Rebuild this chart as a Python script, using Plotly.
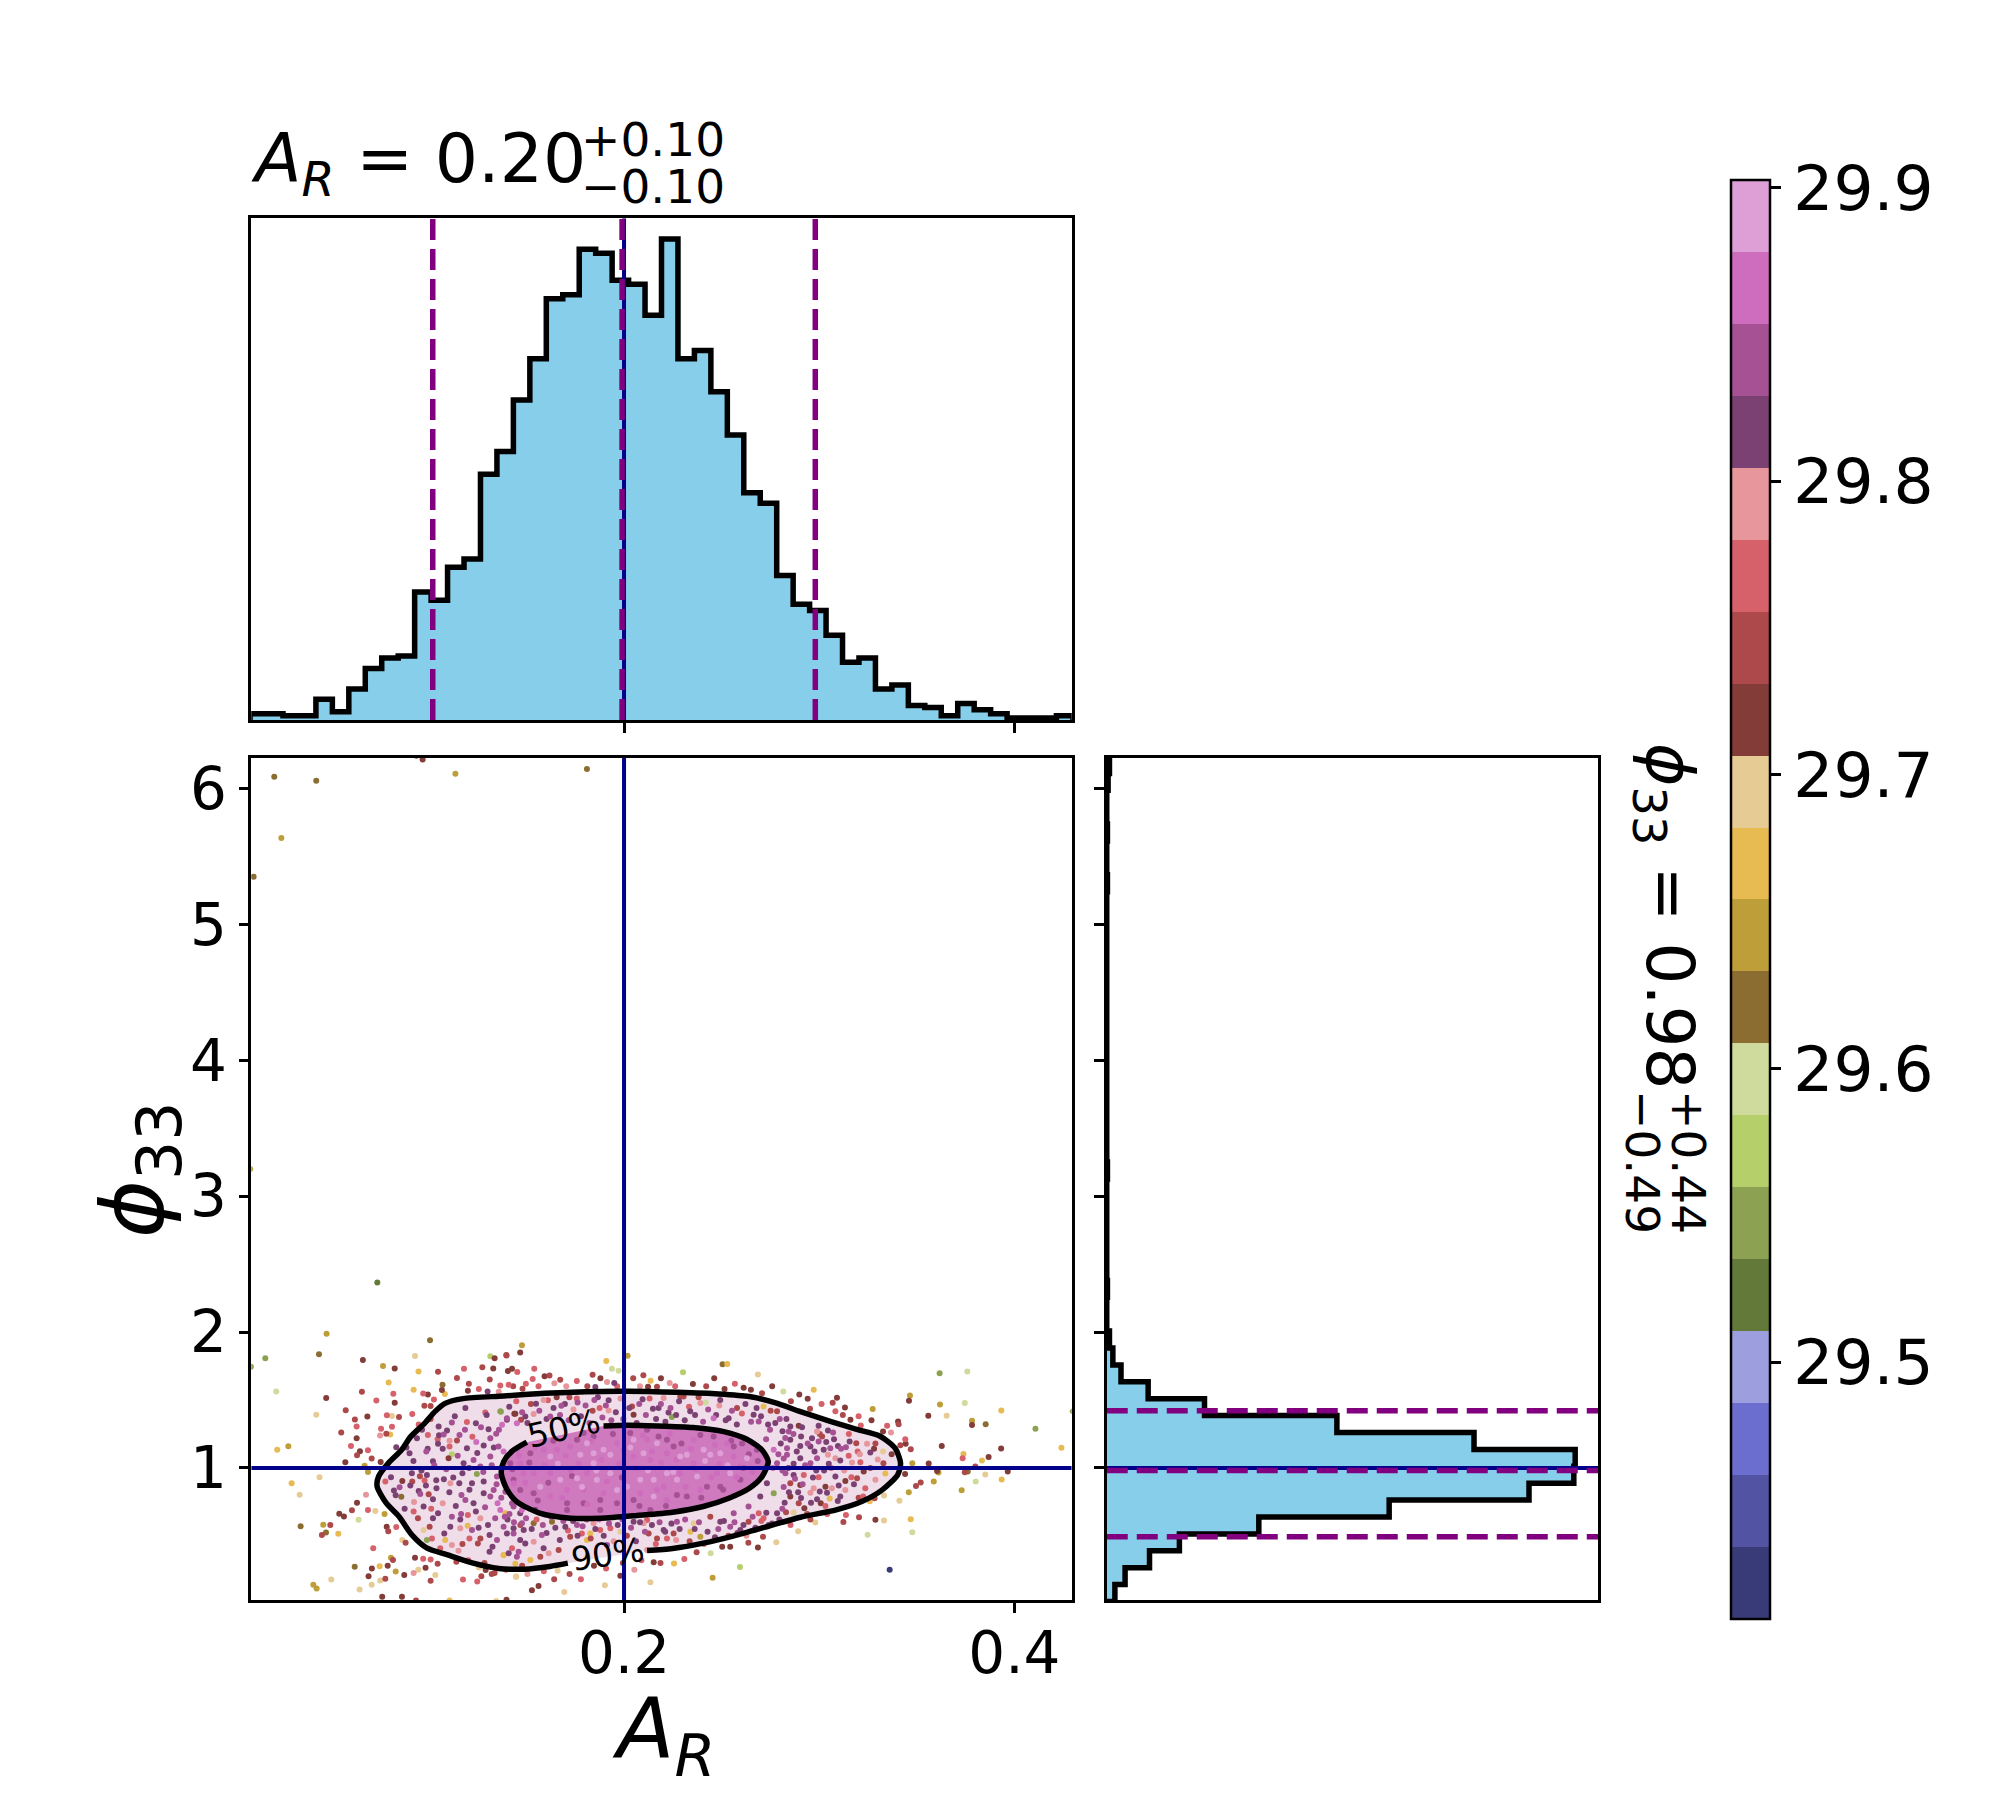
import numpy as np
import plotly.graph_objects as go

# figure size, the page body adds 8px round it
W, H, OFF = 1984, 1784, 8

# histogram of A_R, 50 bins
ar_bin_range = [0.0084, 0.430]
ar_counts = [3, 3, 2, 2, 10, 4, 15, 25, 30, 31, 62, 58, 74, 78, 119, 130, 155, 175, 204, 206,
             228, 226, 213, 211, 196, 233, 175, 179, 159, 138, 110, 105, 70, 56, 53, 41, 28, 30, 15, 17,
             7, 6, 2, 8, 5, 3, 1, 1, 1, 2]
ar_hist_top = 243

# histogram of phi_33, 50 bins from the bottom up
phi_bin_range = [0.017, 6.235]
phi_counts = [12, 27, 63, 107, 224, 416, 622, 688, 690, 541, 339, 144, 61, 21, 9, 4, 0, 0, 1, 0,
              0, 0, 0, 0, 0, 1, 0, 0, 0, 0, 0, 0, 0, 0, 0, 0, 0, 0, 0, 0,
              0, 0, 1, 0, 0, 1, 0, 0, 2, 4]
phi_hist_top = 724

# axis ranges sit just inside the bins, the spines are drawn outside the plot area
ar_range = [0.0090, 0.4294]
phi_range = [0.026, 6.226]

ar_true, phi_true = 0.2, 1.0
ar_quantiles = [0.102, 0.199, 0.298]
phi_quantiles = [0.493, 0.98, 1.42]

# tab20b bands of the colour bar, bottom to top
band_colors = ['#393b79', '#5254a3', '#6b6ecf', '#9c9ede', '#637939', '#8ca252', '#b5cf6b', '#cedb9c',
               '#8c6d31', '#bd9e39', '#e7ba52', '#e7cb94', '#843c39', '#ad494a', '#d6616b', '#e7969c',
               '#7b4173', '#a55194', '#ce6dbd', '#de9ed6']
stat_min, stat_max = 29.4125, 29.9026
stat_ticks = [29.5, 29.6, 29.7, 29.8, 29.9]

# contours (A_R, phi_33), open where the labels sit
c90_ar = [.2118, .2249, .2406, .2563, .2747, .2904, .3087, .3218, .3323, .3402, .3417, .3389, .3310, .3192, .3061,
          .2904, .2773, .2642, .2485, .2275, .2013, .1804, .1594, .1384, .1175, .1083, .1031, .0978, .0907, .0860,
          .0795, .0742, .0735, .0782, .0847, .0913, .0991, .1096, .1227, .1358, .1489, .1620, .1712]
c90_phi = [.392, .407, .446, .500, .574, .637, .691, .752, .838, .949, 1.034, 1.145, 1.235, 1.284, 1.341,
           1.414, 1.480, 1.525, 1.544, 1.556, 1.564, 1.561, 1.549, 1.529, 1.510, 1.475, 1.414, 1.328, 1.230, 1.132,
           1.039, .936, .863, .740, .642, .507, .409, .360, .299, .260, .255, .275, .299]
c50_ar = [.1895, .2013, .2170, .2354, .2511, .2629, .2707, .2739, .2707, .2642, .2537, .2406, .2249, .2066, .1882,
          .1725, .1568, .1450, .1397, .1371, .1384, .1424, .1502]
c50_phi = [1.309, 1.314, 1.309, 1.297, 1.267, 1.211, 1.132, 1.047, .936, .850, .777, .716, .674, .650, .630,
           .630, .667, .752, .850, .961, 1.047, 1.120, 1.189]

# samples: (A_R, phi_33, band)
stray = [(.0208, 6.086, 8), (.0423, 6.057, 8), (.0244, 5.636, 9), (.0102, 5.351, 8), (.0936, 6.241, 12),
         (.0968, 6.214, 12), (.1136, 6.108, 9), (.127, 6.246, 10), (.181, 6.143, 8), (.0085, 3.2, 9), (.0736, 2.364, 4)]
left_far = [(.0476, 1.988, 9), (.0437, 1.836, 8), (.0162, 1.806, 5), (.0088, 1.745, 5), (.0662, 1.794, 12),
            (.0929, 1.823, 11), (.1006, 1.939, 8), (.0765, 1.750, 9), (.0825, 1.732, 12), (.0947, 1.710, 10),
            (.1047, 1.708, 13), (.118, 1.73, 14), (.1274, 1.74, 13), (.133, 1.732, 12), (.1315, 1.821, 6),
            (.1337, 1.806, 12), (.1398, 1.828, 13), (.1468, 1.85, 12), (.1477, 1.902, 9), (.1405, 1.713, 12),
            (.1426, 1.73, 12), (.1453, 1.705, 14), (.1144, 1.661, 13), (.0794, 1.629, 10), (.0218, 1.563, 7),
            (.0474, 1.514, 12), (.0657, 1.56, 13), (.0818, 1.546, 14), (.0922, 1.575, 10), (.0731, 1.496, 14),
            (.0825, 1.479, 12), (.1067, 1.573, 12), (.107, 1.612, 8), (.1082, 1.543, 10), (.0971, 1.548, 14),
            (.0995, 1.541, 12), (.1026, 1.504, 14), (.12, 1.568, 12), (.1301, 1.563, 16), (.1366, 1.607, 14),
            (.1409, 1.612, 14), (.148, 1.583, 13), (.0423, 1.391, 11), (.0574, 1.425, 13), (.0621, 1.356, 13),
            (.0685, 1.378, 12), (.0785, 1.388, 14), (.0811, 1.381, 11), (.0847, 1.374, 13), (.0915, 1.396, 14),
            (.0977, 1.457, 13), (.1009, 1.455, 13), (.063, 1.305, 14), (.0551, 1.26, 13), (.0755, 1.288, 14),
            (.0811, 1.302, 14), (.0782, 1.251, 13), (.0802, 1.246, 10), (.075, 1.238, 15), (.063, 1.219, 12),
            (.0601, 1.162, 14), (.0223, 1.133, 10), (.028, 1.16, 9), (.0647, 1.123, 12), (.0688, 1.13, 14),
            (.0632, 1.093, 13), (.0707, 1.069, 13), (.0572, 1.042, 12), (.0753, 1.044, 12), (.0671, 1.015, 9),
            (.0688, .97, 9), (.0297, .887, 10), (.044, .931, 11), (.0338, .803, 11), (.0632, .744, 12),
            (.0678, .803, 15), (.0606, .688, 13), (.0541, .663, 12), (.0565, .643, 12), (.0688, .69, 14),
            (.0726, .683, 11), (.0773, .661, 9), (.064, .619, 7), (.0343, .57, 8), (.0459, .582, 9),
            (.0495, .58, 13), (.0473, .525, 8), (.0452, .506, 13), (.0536, .516, 10), (.0784, .567, 12),
            (.0792, .533, 13), (.0833, .565, 14), (.0864, .469, 11), (.0881, .449, 13), (.0715, .408, 14),
            (.062, .272, 8), (.0748, .277, 10), (.0789, .28, 12), (.0806, .339, 9), (.0816, .322, 13),
            (.0708, .26, 12), (.0691, .203, 12), (.083, .238, 9), (.0874, .211, 12), (.0922, .226, 15),
            (.0946, .25, 11), (.0929, .339, 12), (.0971, .331, 14), (.0983, .265, 12), (.1009, .326, 14),
            (.1045, .294, 13), (.1033, .211, 11), (.1009, .169, 13), (.0777, .184, 13), (.0751, .172, 11),
            (.0707, .14, 11), (.0645, .105, 11), (.05, .179, 11), (.0408, .14, 9), (.0425, .113, 9),
            (.0761, .051, 12), (.0862, .051, 12), (.0934, .024, 13), (.1106, .024, 10), (.1345, .02, 11),
            (.1398, .03, 12), (.1175, .179, 14), (.1248, .164, 14), (.1269, .203, 13), (.1337, .226, 13),
            (.1291, .248, 12), (.1448, .201, 11), (.1141, .309, 13), (.1257, .267, 11), (.1383, .358, 10),
            (.1443, .294, 10)]
left_ring = [(.0913, .961, 16), (.0806, .931, 16), (.0777, .899, 14), (.0821, .833, 16), (.085, .857, 17),
             (.083, .798, 16), (.0859, .788, 8), (.0876, .7, 16), (.0864, .904, 12), (.0915, .899, 13),
             (.0954, .938, 13), (.0978, .907, 14), (.099, .948, 16), (.1038, .909, 16), (.1077, .916, 16),
             (.1125, .929, 16), (.111, .887, 15), (.1156, .887, 16), (.0956, .808, 17), (.0999, .806, 13),
             (.0924, .749, 15), (.0973, .715, 16), (.1021, .769, 16), (.0944, .629, 13), (.1021, .629, 16),
             (.1047, .666, 16), (.1118, .641, 17), (.1161, .621, 16), (.12, .653, 14), (.1004, .567, 13),
             (.1079, .518, 16), (.111, .567, 16), (.1161, .555, 15), (.1199, .575, 10), (.1221, .543, 17),
             (.1264, .481, 13), (.1311, .506, 16), (.134, .629, 17), (.1383, .567, 17), (.1434, .518, 17),
             (.1349, .469, 17), (.1477, .592, 17), (.1494, .444, 16), (.1311, .383, 16), (.1409, .371, 16),
             (.146, .383, 17), (.1229, .739, 16), (.1281, .813, 16), (.1315, .789, 17), (.1187, .764, 17),
             (.1264, .629, 15), (.1366, .69, 18), (.1426, .739, 17), (.1477, .69, 18), (.099, .469, 5),
             (.1016, .481, 14), (.1084, .469, 10), (.1118, .432, 15), (.1058, .408, 14), (.1152, .39, 15),
             (.1251, .444, 13), (.0973, .543, 11), (.105, 1.305, 16), (.1118, 1.334, 17), (.1195, 1.337, 14),
             (.1241, 1.329, 16), (.1306, 1.285, 16), (.1345, 1.251, 17), (.1157, 1.243, 17), (.1093, 1.275, 16),
             (.1076, 1.246, 17), (.1045, 1.211, 14), (.0995, 1.243, 14), (.0965, 1.28, 16), (.0939, 1.219, 16),
             (.0833, 1.152, 16), (.0901, 1.108, 16), (.0994, 1.14, 16), (.1047, 1.177, 16), (.1106, 1.157, 14),
             (.1144, 1.201, 13), (.1195, 1.145, 16), (.1243, 1.19, 18), (.1281, 1.165, 16), (.1315, 1.219, 17),
             (.1357, 1.157, 17), (.14, 1.366, 17), (.1375, 1.317, 18), (.1451, 1.329, 18), (.1494, 1.378, 16),
             (.1438, 1.398, 12), (.1369, 1.413, 5), (.1289, 1.408, 14), (.1187, 1.44, 16), (.1021, 1.049, 16),
             (.1101, 1.071, 12), (.1118, 1.101, 6), (.1178, 1.034, 16), (.1229, 1.059, 17), (.1315, 1.084, 17),
             (.1383, 1.12, 18), (.1451, 1.133, 18), (.1264, 1.01, 17), (.1349, .936, 17), (.1281, .899, 16),
             (.1246, .956, 5), (.1221, .887, 16), (.1332, .838, 17), (.1434, .887, 18), (.1392, .825, 17),
             (.0885, 1.15, 16), (.0921, 1.05, 16), (.0948, 1.32, 14), (.0962, .98, 16), (.0987, 1.12, 17),
             (.1009, 1.36, 13), (.1028, 1.02, 17), (.1052, 1.24, 16), (.1071, 1.14, 16), (.1089, .99, 17),
             (.1106, 1.2, 15), (.1133, 1.38, 16), (.1148, 1.09, 17), (.1172, .96, 16), (.1185, 1.28, 17),
             (.1206, 1.0, 16), (.1223, 1.23, 14), (.1248, 1.11, 16), (.1267, 1.3, 17), (.1279, .97, 17),
             (.1296, 1.39, 16), (.1322, 1.02, 17), (.1333, 1.15, 16), (.1347, .88, 17), (.1359, 1.28, 17),
             (.1371, .78, 17), (.1105, .82, 16), (.1071, .74, 15), (.1039, .85, 16), (.1012, .7, 14),
             (.0985, .87, 16), (.0948, .83, 16), (.0905, .87, 16), (.0922, .68, 14), (.1138, .72, 16),
             (.1167, .8, 17), (.1208, .84, 16), (.1165, .66, 17), (.1241, .68, 16), (.1288, .71, 17),
             (.1303, .58, 16), (.1352, .74, 18), (.1255, .56, 16), (.1208, .48, 14), (.1389, .64, 17),
             (.1413, .66, 17), (.1326, .42, 16), (.1172, .44, 13)]
right_far = [(.2816, 1.563, 7), (.2972, 1.575, 10), (.2941, 1.509, 12), (.3091, 1.516, 12), (.3069, 1.479, 13),
             (.2953, 1.435, 13), (.3132, 1.445, 12), (.3083, 1.416, 14), (.3274, 1.433, 9), (.3465, 1.533, 9),
             (.346, 1.494, 12), (.3617, 1.696, 5), (.3759, 1.71, 7), (.3619, 1.467, 9), (.3746, 1.477, 7),
             (.3933, 1.423, 10), (.3559, 1.384, 12), (.3653, 1.384, 11), (.3783, 1.347, 9), (.3783, 1.315, 12),
             (.3853, 1.322, 8), (.4108, 1.288, 5), (.4299, 1.416, 5), (.3404, 1.342, 12), (.3407, 1.322, 13),
             (.3348, 1.31, 14), (.3327, 1.268, 12), (.3368, 1.261, 15), (.3213, 1.312, 14), (.316, 1.354, 12),
             (.3441, 1.211, 14), (.3443, 1.177, 12), (.3416, 1.167, 13), (.3469, 1.138, 13), (.3288, 1.18, 13),
             (.3281, 1.14, 12), (.3327, 1.121, 11), (.3371, 1.101, 12), (.33, 1.062, 15), (.3329, 1.035, 13),
             (.3477, 1.035, 9), (.3561, 1.032, 12), (.3628, 1.162, 12), (.3739, 1.103, 10), (.3735, 1.071, 14),
             (.3834, 1.054, 10), (.3868, 1.081, 12), (.3932, 1.143, 12), (.4241, 1.148, 10), (.3604, .978, 12),
             (.3611, .966, 9), (.3746, .968, 13), (.3761, .973, 8), (.38, 1.01, 13), (.3966, .973, 12),
             (.3851, .951, 11), (.3935, .914, 10), (.3802, .899, 7), (.373, .835, 9), (.3587, .899, 9),
             (.352, .892, 13), (.3496, .867, 13), (.3459, .821, 9), (.344, .956, 12), (.3411, .759, 11),
             (.3339, .958, 10), (.3332, .796, 11), (.3284, .776, 13), (.3259, .754, 10), (.3225, .789, 14),
             (.3202, .781, 13), (.3469, .622, 10), (.3332, .612, 11), (.3288, .619, 12), (.3204, .636, 13),
             (.3137, .654, 14), (.3124, .602, 13), (.3477, .526, 7), (.3248, .508, 7), (.3361, .25, 0),
             (.298, .599, 11), (.2892, .533, 11), (.2924, .703, 12)]
right_ring = [(.2852, 1.305, 16), (.2895, 1.31, 12), (.2844, 1.268, 17), (.2997, 1.31, 16), (.3015, 1.231, 13),
              (.3045, 1.275, 16), (.3071, 1.261, 17), (.2989, 1.268, 15), (.2963, 1.219, 16), (.2907, 1.231, 16),
              (.2852, 1.207, 16), (.2997, 1.194, 17), (.3156, 1.194, 16), (.319, 1.182, 13), (.3245, 1.177, 15),
              (.3096, 1.162, 16), (.3137, 1.152, 17), (.3057, 1.145, 17), (.3023, 1.133, 16), (.2955, 1.157, 16),
              (.2903, 1.162, 16), (.2835, 1.145, 17), (.3262, 1.113, 16), (.3197, 1.12, 14), (.3151, 1.089, 14),
              (.3108, 1.054, 16), (.3045, 1.096, 15), (.3083, 1.071, 15), (.2989, 1.071, 17), (.2903, 1.071, 16),
              (.2835, 1.096, 17), (.3049, 1.03, 16), (.2955, 1.035, 17), (.2869, 1.03, 16), (.3168, 1.039, 15),
              (.3211, 1.042, 14), (.2827, .961, 17), (.2869, .948, 16), (.2921, .948, 14), (.2997, .931, 14),
              (.3083, .936, 16), (.3165, .931, 14), (.3194, .924, 13), (.3228, .973, 12), (.3288, .912, 15),
              (.3134, .904, 12), (.31, .87, 16), (.3032, .862, 12), (.2972, .85, 15), (.2903, .875, 12),
              (.2852, .887, 13), (.3134, .838, 15), (.304, .818, 16), (.3003, .826, 16), (.2955, .818, 15),
              (.2907, .779, 16), (.2852, .789, 12), (.2823, .744, 16), (.2895, .74, 13), (.2958, .744, 16),
              (.3008, .74, 12), (.3095, .757, 16), (.3054, .774, 10), (.283, .673, 13), (.2869, .671, 11),
              (.2832, 1.36, 16), (.2868, 1.25, 17), (.2885, 1.12, 16), (.2912, 1.3, 16), (.2928, 1.02, 17),
              (.2941, 1.18, 17), (.2976, 1.12, 16), (.2985, .98, 16), (.3003, 1.25, 13), (.3036, 1.19, 16),
              (.3061, 1.0, 14), (.3076, 1.21, 16), (.3112, 1.14, 17), (.3128, .98, 15), (.3152, 1.25, 14),
              (.3178, .88, 16), (.3208, 1.1, 15), (.3236, .85, 14), (.3262, 1.0, 13), (.2818, .86, 17),
              (.2845, .82, 16), (.2876, .92, 17), (.2892, .82, 16), (.2915, .88, 17), (.2938, .66, 13),
              (.2968, .93, 16), (.2989, .77, 16), (.3025, .98, 16), (.3032, .72, 14), (.3065, .85, 15),
              (.3108, .79, 16), (.2812, .98, 17), (.2842, 1.0, 16), (.2818, 1.07, 17), (.2826, 1.22, 17)]
mid_top = [(.1397, 1.831, 13), (.1909, 1.787, 10), (.1938, 1.73, 7), (.1972, 1.715, 7), (.2018, 1.826, 9),
           (.1839, 1.686, 13), (.2099, 1.681, 13), (.2136, 1.642, 10), (.1913, 1.632, 15), (.195, 1.624, 16),
           (.2234, 1.624, 15), (.2353, 1.617, 12), (.2302, 1.703, 6), (.2505, 1.762, 8), (.2529, 1.765, 10),
           (.2686, 1.688, 11), (.2613, 1.59, 12), (.265, 1.575, 12), (.2515, 1.58, 12), (.1673, 1.649, 13),
           (.1593, 1.674, 12), (.154, 1.73, 14), (.1532, 1.654, 14), (.1643, 1.622, 15), (.1853, 1.595, 16),
           (.2123, 1.597, 12), (.2169, 1.597, 13), (.2305, 1.526, 13), (.1549, 1.472, 16), (.161, 1.497, 14),
           (.1679, 1.457, 17), (.1762, 1.482, 17), (.172, 1.519, 13), (.1848, 1.5, 17), (.1921, 1.497, 16),
           (.1875, 1.44, 14), (.1921, 1.423, 15), (.2041, 1.452, 13), (.2095, 1.506, 16), (.2148, 1.435, 16),
           (.2203, 1.514, 15), (.2177, 1.44, 16), (.2228, 1.408, 16), (.2245, 1.374, 5), (.2288, 1.526, 13),
           (.2339, 1.416, 16), (.2391, 1.477, 15), (.2418, 1.482, 7), (.2493, 1.5, 16), (.2459, 1.366, 18),
           (.2536, 1.366, 16), (.2579, 1.44, 13), (.269, 1.342, 17), (.2715, 1.452, 10), (.2664, 1.391, 16),
           (.2784, 1.416, 13), (.2775, 1.33, 16), (.14, 1.354, 16), (.1472, 1.354, 13), (.1366, 1.416, 5),
           (.1443, 1.398, 12), (.1537, 1.396, 15), (.1622, 1.379, 17), (.2049, 1.391, 12), (.2767, 1.133, 18),
           (.2784, 1.034, 17), (.1412, 1.45, 16), (.1448, 1.49, 14), (.1478, 1.41, 17), (.1505, 1.33, 16),
           (.1523, 1.47, 13), (.1566, 1.42, 17), (.1588, 1.5, 15), (.1603, 1.36, 16), (.1639, 1.44, 16),
           (.1655, 1.52, 12), (.1672, 1.39, 17), (.1697, 1.47, 16), (.1716, 1.35, 17), (.1741, 1.43, 15),
           (.1758, 1.51, 14), (.1779, 1.38, 16), (.1803, 1.46, 17), (.1823, 1.33, 17), (.1839, 1.42, 13),
           (.1866, 1.52, 16), (.1889, 1.37, 17), (.1907, 1.46, 17), (.1935, 1.35, 17), (.1958, 1.41, 16),
           (.1982, 1.51, 15), (.1996, 1.36, 17), (.2027, 1.44, 16), (.2065, 1.33, 16), (.2078, 1.47, 17),
           (.2112, 1.39, 17), (.2131, 1.51, 14), (.2164, 1.36, 16), (.2189, 1.47, 17), (.2212, 1.34, 16),
           (.2238, 1.44, 17), (.2267, 1.39, 16), (.2282, 1.49, 16), (.2311, 1.35, 16), (.2333, 1.45, 14),
           (.2364, 1.39, 16), (.2382, 1.52, 13), (.2405, 1.34, 17), (.2431, 1.43, 17), (.2472, 1.39, 16),
           (.2488, 1.46, 15), (.2521, 1.35, 16), (.2553, 1.42, 17), (.2578, 1.32, 16), (.2604, 1.4, 14),
           (.2622, 1.47, 16), (.2651, 1.34, 17), (.2679, 1.44, 16), (.2702, 1.38, 16), (.2738, 1.32, 16),
           (.2751, 1.42, 13), (.2798, 1.36, 17), (.2812, 1.27, 16), (.2748, 1.28, 17), (.2728, 1.21, 17),
           (.2803, 1.18, 16), (.2791, 1.1, 17), (.2763, 1.0, 18)]
mid_bottom = [(.2732, .887, 16), (.2767, .813, 5), (.2698, .789, 16), (.2638, .715, 17), (.2562, .666, 17),
              (.2493, .604, 16), (.2442, .641, 13), (.2544, .567, 17), (.2596, .543, 16), (.2638, .604, 13),
              (.2715, .629, 14), (.269, .666, 14), (.2741, .58, 16), (.2784, .666, 16), (.234, .531, 10),
              (.2391, .494, 9), (.2271, .604, 17), (.2203, .543, 16), (.2254, .518, 13), (.2169, .481, 13),
              (.2126, .518, 13), (.2357, .592, 11), (.222, .481, 14), (.2118, .395, 15), (.2152, .305, 12),
              (.2256, .297, 10), (.2444, .371, 7), (.2594, .27, 6), (.2454, .191, 9), (.2135, .159, 11),
              (.2544, .42, 12), (.2686, .415, 12), (.278, .452, 11), (.2712, .494, 13), (.1981, .206, 12),
              (.1902, .137, 11), (.1694, .086, 11), (.1528, .1, 12), (.1562, .13, 12), (.1446, .199, 11),
              (.166, .243, 11), (.1571, .346, 13), (.152, .322, 10), (.1451, .346, 17), (.1383, .359, 10),
              (.1614, .371, 15), (.1426, .408, 14), (.1537, .457, 15), (.1588, .408, 16), (.1665, .395, 13),
              (.1468, .469, 16), (.14, .518, 16), (.1434, .555, 16), (.1486, .543, 16), (.1579, .506, 17),
              (.1631, .604, 8), (.1699, .567, 16), (.1724, .494, 13), (.181, .469, 10), (.1784, .518, 14),
              (.1827, .518, 10), (.1878, .543, 14), (.193, .555, 14), (.1981, .531, 11), (.1913, .432, 17),
              (.1545, .69, 16), (.1468, .666, 16), (.1392, .666, 10), (.1434, .715, 17), (.2049, .604, 16),
              (.21, .592, 15), (.2118, .617, 14), (.1844, .592, 15), (.1759, .58, 17), (.1537, .592, 8),
              (.1403, .62, 16), (.1436, .6, 17), (.1469, .58, 13), (.1498, .63, 17), (.1527, .55, 16),
              (.1552, .62, 14), (.1584, .58, 17), (.1603, .52, 16), (.1626, .64, 17), (.1648, .56, 16),
              (.1671, .47, 16), (.1689, .61, 17), (.1713, .54, 14), (.1739, .61, 16), (.1762, .5, 16),
              (.1788, .57, 17), (.1809, .62, 17), (.1829, .48, 13), (.1853, .55, 16), (.1872, .62, 18),
              (.1896, .5, 16), (.1923, .59, 17), (.1947, .46, 15), (.1968, .58, 16), (.1992, .62, 17),
              (.2015, .5, 13), (.2036, .56, 17), (.2061, .46, 16), (.2082, .6, 16), (.2107, .53, 17),
              (.2143, .58, 16), (.2163, .44, 14), (.2182, .6, 17), (.2211, .53, 16), (.2243, .59, 16),
              (.2267, .47, 15), (.2285, .55, 16), (.2313, .62, 17), (.2336, .46, 13), (.2362, .55, 16),
              (.2384, .6, 17), (.2409, .44, 14), (.2428, .53, 16), (.2466, .49, 16), (.2483, .55, 17),
              (.2512, .61, 16), (.2535, .5, 13), (.2566, .6, 17), (.2581, .52, 16), (.2612, .58, 16),
              (.2627, .5, 15), (.2659, .64, 17), (.2673, .56, 16), (.2704, .61, 14), (.2729, .67, 16),
              (.2758, .59, 16), (.2796, .62, 16), (.2811, .7, 17)]
edge_top = [(.1205, 1.62, 13), (.1256, 1.58, 14), (.1312, 1.65, 13), (.1358, 1.56, 15), (.1432, 1.6, 13),
            (.1497, 1.62, 14), (.1562, 1.6, 14), (.1618, 1.68, 13), (.1704, 1.6, 15), (.1758, 1.64, 14),
            (.1812, 1.6, 13), (.1879, 1.66, 12), (.1965, 1.6, 14), (.2047, 1.66, 13), (.2082, 1.6, 15),
            (.2189, 1.66, 12), (.2262, 1.6, 14), (.2421, 1.6, 13), (.2462, 1.66, 12), (.2568, 1.62, 14),
            (.2707, 1.55, 13), (.2759, 1.6, 12), (.2855, 1.49, 13), (.2898, 1.54, 12), (.3012, 1.47, 14),
            (.3121, 1.39, 13), (.3202, 1.38, 14), (.3268, 1.35, 12)]
edge_bottom = [(.1202, .32, 14), (.1285, .3, 13), (.1322, .22, 13), (.1395, .25, 14), (.1478, .28, 13),
               (.1505, .22, 15), (.1589, .24, 14), (.1642, .18, 13), (.1721, .22, 13), (.1779, .18, 14),
               (.1846, .28, 12), (.1908, .26, 14), (.1994, .3, 13), (.2053, .25, 15), (.2089, .32, 14),
               (.2187, .3, 13), (.2309, .33, 14), (.2372, .38, 13), (.2503, .42, 12), (.2637, .45, 13),
               (.2853, .58, 14), (.2955, .62, 13), (.3041, .66, 14)]
core_lilac = [(.1844, 1.108, 19), (.193, 1.096, 19), (.181, 1.182, 19), (.1776, 1.096, 19), (.1895, 1.133, 19),
              (.21, 1.108, 19), (.2152, .912, 19), (.2083, .912, 19), (.222, .961, 19), (.2442, 1.096, 19),
              (.2493, 1.108, 19), (.2408, 1.133, 19), (.2322, 1.096, 19), (.2288, 1.084, 19), (.1844, 1.034, 19),
              (.1622, 1.084, 19), (.1571, .862, 19), (.1673, .912, 19), (.1759, .924, 19), (.1861, .912, 19),
              (.193, .961, 19), (.2049, 1.207, 19), (.2169, 1.182, 19), (.2374, .936, 19), (.2271, .912, 19),
              (.2544, .961, 19), (.263, 1.071, 19), (.2015, .862, 19), (.2152, .789, 19), (.1964, .838, 19),
              (.1661, 1.03, 19), (.1785, .86, 19), (.1858, .98, 19), (.2032, 1.15, 19), (.2123, .98, 19),
              (.2252, .97, 19), (.2415, 1.05, 19), (.2531, 1.02, 19)]
core_mauve = [(.222, 1.207, 17), (.2254, 1.157, 17), (.2177, 1.231, 17), (.2322, .789, 17), (.2271, .801, 17),
              (.1878, .764, 17), (.1793, .74, 17), (.1708, .74, 17), (.1537, .813, 17), (.1468, .838, 17),
              (.1434, .912, 17), (.1417, 1.034, 17), (.152, 1.108, 17), (.1793, 1.256, 17), (.1844, 1.231, 17),
              (.1759, 1.207, 17), (.2049, .764, 17), (.2425, .862, 17), (.2493, .862, 17), (.2596, .912, 17),
              (.2681, 1.133, 17), (.2562, 1.157, 17), (.2459, 1.231, 17), (.2391, 1.243, 17), (.2118, 1.28, 17),
              (.2032, 1.256, 17), (.1964, .74, 17), (.2135, .69, 17), (.1708, .69, 17), (.1878, .69, 17),
              (.1428, .99, 17), (.1515, 1.04, 17), (.1558, .76, 17), (.1612, .89, 17), (.1638, 1.2, 17),
              (.1733, .94, 17), (.1943, 1.25, 17), (.1989, .93, 17), (.2079, .72, 17), (.2215, .72, 17),
              (.2294, 1.18, 17), (.2396, .78, 17), (.2508, .84, 17), (.2549, 1.2, 17), (.2611, 1.0, 17),
              (.2639, 1.1, 17), (.2685, 1.05, 17), (.2605, 1.18, 17)]
core_orchid = [(.1656, 1.133, 18), (.1725, 1.157, 18), (.1588, 1.133, 18), (.1486, .961, 18), (.1537, .961, 18),
               (.1468, 1.034, 18), (.1622, .961, 18), (.1725, .985, 18), (.181, .961, 18), (.1793, .838, 18),
               (.1708, .838, 18), (.1622, .789, 18), (.1895, .813, 18), (.2049, 1.084, 18), (.2118, 1.207, 18),
               (.2135, 1.059, 18), (.222, 1.108, 18), (.2203, .862, 18), (.2288, .961, 18), (.2357, 1.034, 18),
               (.2391, .838, 18), (.2476, .961, 18), (.2562, 1.084, 18), (.2596, 1.01, 18), (.2357, 1.207, 18),
               (.2527, 1.182, 18), (.1964, 1.182, 18), (.1998, 1.133, 18), (.2083, .813, 18), (.222, .764, 18),
               (.1462, 1.09, 18), (.1495, .89, 18), (.1545, 1.15, 18), (.1592, 1.02, 18), (.1683, .78, 18),
               (.1702, 1.09, 18), (.1768, 1.03, 18), (.1812, .73, 18), (.1832, 1.2, 18), (.1885, 1.06, 18),
               (.1912, .9, 18), (.1975, 1.03, 18), (.2058, 1.0, 18), (.2098, 1.24, 18), (.2144, 1.12, 18),
               (.2168, .84, 18), (.2191, 1.04, 18), (.2234, 1.25, 18), (.2268, 1.06, 18), (.2316, .86, 18),
               (.2343, 1.14, 18), (.2371, .99, 18), (.2447, .93, 18), (.2466, 1.17, 18), (.2489, 1.03, 18),
               (.2578, .93, 18), (.2658, .97, 18)]

samples = (stray + left_far + left_ring + right_far + right_ring + mid_top + mid_bottom + edge_top + edge_bottom
           + core_mauve + core_orchid + core_lilac)
samples = sorted(samples, key=lambda s: s[2])
sample_ar = [s[0] for s in samples]
sample_phi = [s[1] for s in samples]
band_width = (stat_max - stat_min) / len(band_colors)
sample_stat = [stat_min + (s[2] + 0.5) * band_width for s in samples]

colorscale = []
for i, c in enumerate(band_colors):
    colorscale += [[i / 20, c], [(i + 1) / 20, c]]


def px(p):
    return (p - OFF) / W


def py(p):
    return 1 - (p - OFF) / H


SKY = '#87CEEB'
NAVY = '#00008B'
PURPLE = '#800080'
FONT = 'DejaVu Sans'
OUT = 5.5

fig = go.Figure()

# top histogram
ar_edges = np.linspace(ar_bin_range[0], ar_bin_range[1], len(ar_counts) + 1)
fig.add_trace(go.Scatter(
    x=[ar_edges[0]] + list(ar_edges[:-1]) + [ar_edges[-1], ar_edges[-1]],
    y=[0] + ar_counts + [ar_counts[-1], 0],
    mode='lines', line=dict(color='black', width=OUT, shape='hv'),
    fill='toself', fillcolor=SKY, xaxis='x', yaxis='y'))
fig.add_trace(go.Scatter(x=[ar_true, ar_true], y=[0, ar_hist_top], mode='lines',
                         line=dict(color=NAVY, width=4), xaxis='x', yaxis='y'))
for q in ar_quantiles:
    fig.add_trace(go.Scatter(x=[q, q], y=[0, ar_hist_top], mode='lines',
                             line=dict(color=PURPLE, width=5.5, dash='21px,9px'), xaxis='x', yaxis='y'))

# main panel: the core is too dense to list point by point, so it gets a tint under the samples
fig.add_trace(go.Scatter(x=c90_ar, y=c90_phi, mode='lines', line=dict(width=0, shape='spline'),
                         fill='toself', fillcolor='rgba(175,85,150,0.2)', xaxis='x2', yaxis='y2'))
fig.add_trace(go.Scatter(x=c50_ar, y=c50_phi, mode='lines', line=dict(width=0, shape='spline'),
                         fill='toself', fillcolor='rgba(200,100,180,0.82)', xaxis='x2', yaxis='y2'))
fig.add_trace(go.Scatter(
    x=sample_ar, y=sample_phi, mode='markers',
    marker=dict(size=6, color=sample_stat, colorscale=colorscale, cmin=stat_min, cmax=stat_max,
                line=dict(width=0),
                colorbar=dict(x=px(1731), xanchor='left', xpad=0, y=py(180), yanchor='top', ypad=0,
                              lenmode='pixels', len=1439, thicknessmode='pixels', thickness=39,
                              outlinecolor='black', outlinewidth=2.5,
                              tickvals=stat_ticks, ticktext=[f'{t:.1f}' for t in stat_ticks],
                              ticks='outside', ticklen=10, tickwidth=2.5, tickcolor='black',
                              tickfont=dict(family=FONT, size=63, color='black'))),
    xaxis='x2', yaxis='y2'))
for cx, cy in [(c90_ar, c90_phi), (c50_ar, c50_phi)]:
    fig.add_trace(go.Scatter(x=cx, y=cy, mode='lines',
                             line=dict(color='black', width=5.5, shape='spline', smoothing=0.7),
                             xaxis='x2', yaxis='y2'))
fig.add_trace(go.Scatter(x=[ar_true, ar_true], y=phi_range, mode='lines',
                         line=dict(color=NAVY, width=4), xaxis='x2', yaxis='y2'))
fig.add_trace(go.Scatter(x=ar_range, y=[phi_true, phi_true], mode='lines',
                         line=dict(color=NAVY, width=4), xaxis='x2', yaxis='y2'))

# right histogram
phi_edges = np.linspace(phi_bin_range[0], phi_bin_range[1], len(phi_counts) + 1)
fig.add_trace(go.Scatter(
    x=[0] + phi_counts + [phi_counts[-1], 0],
    y=[phi_edges[0]] + list(phi_edges[:-1]) + [phi_edges[-1], phi_edges[-1]],
    mode='lines', line=dict(color='black', width=OUT, shape='vh'),
    fill='toself', fillcolor=SKY, xaxis='x3', yaxis='y3'))
fig.add_trace(go.Scatter(x=[0, phi_hist_top], y=[phi_true, phi_true], mode='lines',
                         line=dict(color=NAVY, width=4), xaxis='x3', yaxis='y3'))
for q in phi_quantiles:
    fig.add_trace(go.Scatter(x=[0, phi_hist_top], y=[q, q], mode='lines',
                             line=dict(color=PURPLE, width=5.5, dash='21px,9px'), xaxis='x3', yaxis='y3'))

spine = dict(showline=True, linecolor='black', linewidth=2.5, mirror=True, showgrid=False, zeroline=False,
             ticks='outside', ticklen=10, tickwidth=2.5, tickcolor='black',
             tickfont=dict(family=FONT, size=58, color='black'))
ar_ticks = [0.2, 0.4]
phi_ticks = [1, 2, 3, 4, 5, 6]

fig.update_layout(
    width=W, height=H, margin=dict(l=0, r=0, t=0, b=0, autoexpand=False),
    paper_bgcolor='white', plot_bgcolor='white', showlegend=False,
    xaxis=dict(spine, domain=[px(251.25), px(1071.75)], range=ar_range, tickvals=ar_ticks, showticklabels=False,
               anchor='y'),
    yaxis=dict(spine, domain=[py(720), py(218.25)], range=[0, ar_hist_top], tickvals=[], showticklabels=False,
               anchor='x'),
    xaxis2=dict(spine, domain=[px(251.25), px(1071.75)], range=ar_range, tickvals=ar_ticks, ticktext=['0.2', '0.4'],
                ticklabelstandoff=-10, anchor='y2'),
    yaxis2=dict(spine, domain=[py(1600.25), py(757.75)], range=phi_range, tickvals=phi_ticks, anchor='x2'),
    xaxis3=dict(spine, domain=[px(1106.75), px(1598.25)], range=[0, phi_hist_top], tickvals=[], showticklabels=False,
                anchor='y3'),
    yaxis3=dict(spine, domain=[py(1600.25), py(757.75)], range=phi_range, tickvals=phi_ticks, showticklabels=False,
                anchor='x3'),
)


def label(text, x, y, size, angle=0, xanchor='center', yanchor='middle', xref='paper', yref='paper'):
    fig.add_annotation(text=text, x=x, y=y, xref=xref, yref=yref, xanchor=xanchor, yanchor=yanchor,
                       showarrow=False, textangle=angle, font=dict(family=FONT, size=size, color='black'))


label('<i>A</i><sub><i>R</i></sub> = 0.20', px(249), py(163), 68, xanchor='left')
label('+0.10', px(579), py(140), 47, xanchor='left')
label('\u22120.10', px(579), py(186), 47, xanchor='left')
label('<i>A</i><sub><i>R</i></sub>', px(663), py(1735), 84)
label('<i>\u03d5</i><sub>33</sub>', px(138), py(1170), 88, angle=-90)
label('<i>\u03d5</i><sub>33</sub> = 0.98', px(1665), py(916), 66, angle=90)
label('+0.44', px(1689), py(1162), 47, angle=90)
label('\u22120.49', px(1643), py(1162), 47, angle=90)
label('50%', 0.169, 1.293, 33, angle=-13, xref='x2', yref='y2')
label('90%', 0.1913, 0.365, 33, angle=-8, xref='x2', yref='y2')

fig.write_html("out.html")
